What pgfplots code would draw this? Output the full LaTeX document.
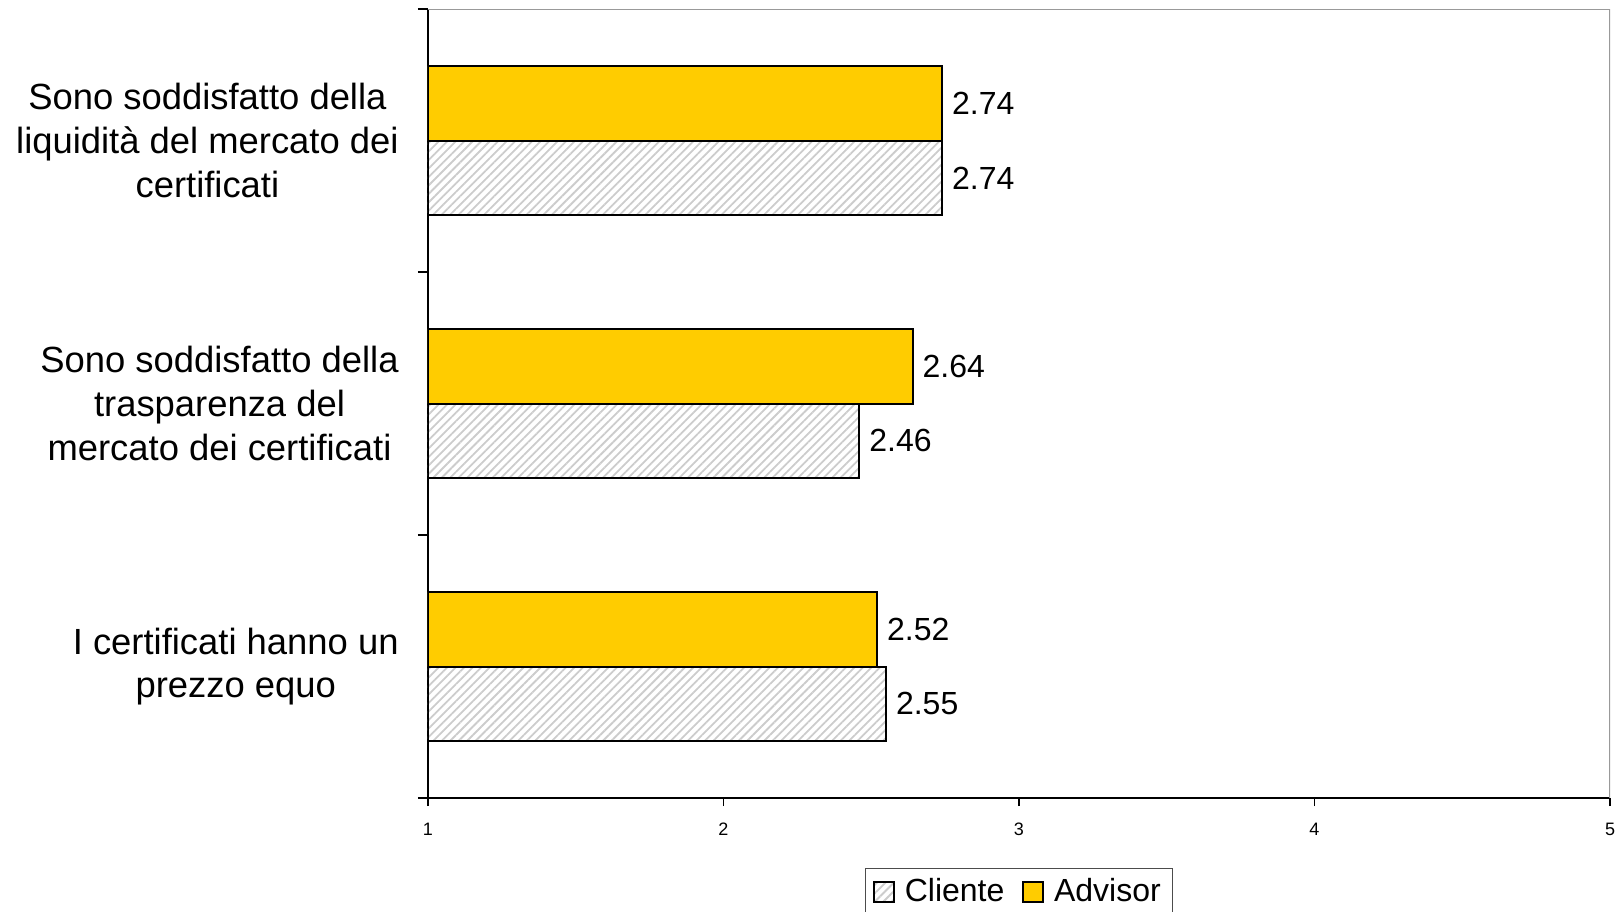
\documentclass[border=0pt]{standalone}
\usepackage{fontspec}
\setmainfont{Liberation Sans}
\usepackage{pgfplots}
\pgfplotsset{compat=1.18}
\usetikzlibrary{patterns.meta}
\definecolor{advisor}{HTML}{FFCC00}
\begin{document}
\begin{tikzpicture}
\path[use as bounding box] (-214pt,-56.5pt) rectangle (596.5pt,399pt);
\begin{axis}[
  at={(0,0)}, anchor=south west,
  width=591pt, height=394.5pt, scale only axis,
  xmin=1, xmax=5, ymin=-0.5, ymax=2.5,
  axis lines*=left,
  axis line style={black, line width=0.8pt},
  tick align=outside,
  xtick={1,2,3,4,5},
  major tick length=4pt,
  minor tick length=5pt,
  x tick style={black, line width=0.8pt},
  ytick={0,1,2},
  minor ytick={-0.5,0.5,1.5,2.5},
  major y tick style={draw=none},
  minor y tick style={draw=black, line width=0.8pt},
  yticklabels={{I certificati hanno un\\prezzo equo},{Sono soddisfatto della\\trasparenza del\\mercato dei certificati},{Sono soddisfatto della\\liquidità del mercato dei\\certificati}},
  yticklabel style={align=center, inner sep=0pt, xshift=-10.5pt, font=\fontsize{18.2}{21.8}\selectfont},
  xticklabel style={font=\fontsize{9}{11}\selectfont, yshift=-5pt},
  /pgf/number format/assume math mode=true,
  legend style={at={(0.5,0)}, anchor=north, yshift=-35pt, legend columns=2, draw=black!70, line width=0.6pt,
    font=\fontsize{16}{19}\selectfont, inner xsep=4pt, inner ysep=3pt,
    /tikz/every odd column/.append style={column sep=3pt},
    /tikz/every even column/.append style={column sep=7pt}},
  legend image code/.code={\draw[#1, line width=0.8pt] (0pt,-5pt) rectangle (10pt,5pt);},
  nodes near coords,
  point meta=x,
  nodes near coords style={anchor=west, inner sep=0pt, xshift=4.5pt, font=\fontsize{16}{19}\selectfont, /pgf/number format/fixed, /pgf/number format/precision=2, /pgf/number format/fixed zerofill, /pgf/number format/assume math mode=true},
]
\addplot[xbar, bar width=0.285, bar shift=-0.1425, draw=black, line width=1pt,
  pattern={Lines[angle=45,distance=3pt,line width=0.9pt]}, pattern color=gray!40,
  every node near coord/.append style={/tikz/yshift=-18.7pt}]
  coordinates {(2.55,0) (2.46,1) (2.74,2)};
\addlegendentry{Cliente}
\addplot[xbar, bar width=0.285, bar shift=0.1425, draw=black, line width=1pt, fill=advisor,
  every node near coord/.append style={/tikz/yshift=18.7pt}]
  coordinates {(2.52,0) (2.64,1) (2.74,2)};
\addlegendentry{Advisor}
\draw[gray!80, line width=1pt] (rel axis cs:0,1) -- (rel axis cs:1,1) -- (rel axis cs:1,0);
\end{axis}
\end{tikzpicture}
\end{document}
